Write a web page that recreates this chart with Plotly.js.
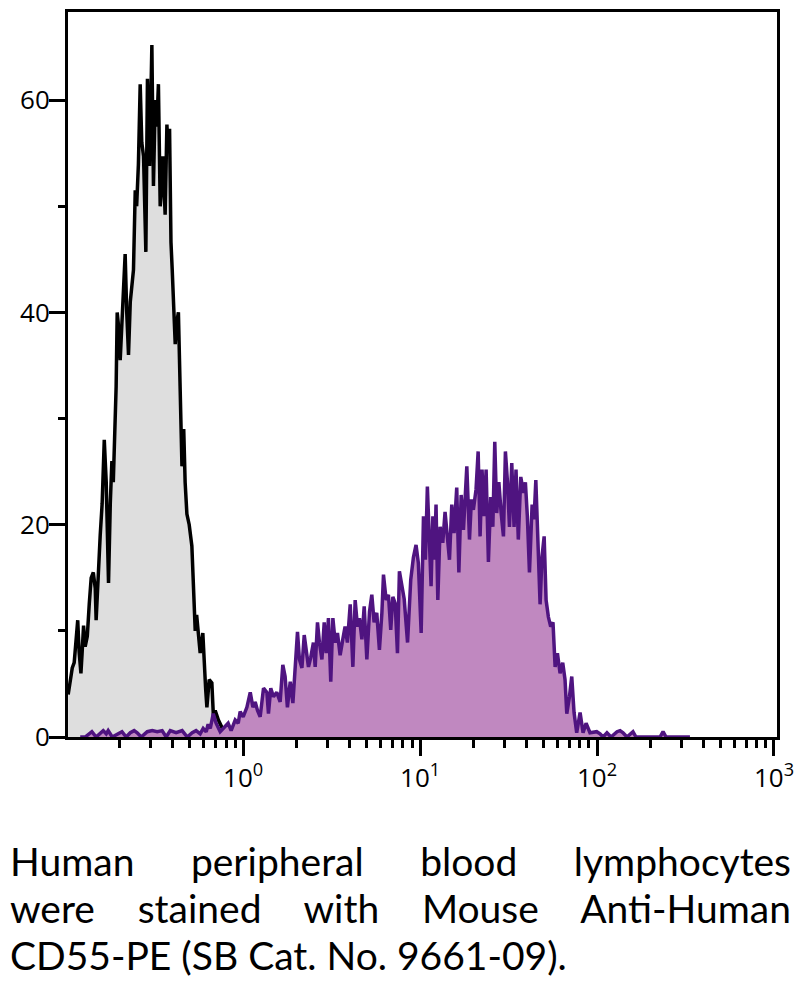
<!DOCTYPE html>
<html>
<head>
<meta charset="utf-8">
<script src="https://cdn.plot.ly/plotly-3.0.1.min.js"></script>
<style>
  body { margin:0; background:#fff; }
  #wrap { position:relative; width:804px; height:985px; }
  #chart { position:absolute; left:0; top:0; width:804px; height:985px; }
  #caption {
    position:absolute; left:10px; top:838px; width:781px;
    font-family:'Lato','Open Sans',sans-serif;
    font-size:39px; line-height:47px; color:#000;
  }
  #caption .j { text-align:justify; text-align-last:justify; white-space:nowrap; }
  #caption .l { text-align:left; white-space:nowrap; }
</style>
</head>
<body>
<div id="wrap">
  <div id="chart"></div>
  <div id="caption">
    <div class="j">Human peripheral blood lymphocytes</div>
    <div class="j">were stained with Mouse Anti-Human</div>
    <div class="l">CD55-PE (SB Cat. No. 9661-09).</div>
  </div>
</div>
<script>
// ---- Data (x read as log10 decades, y as counts) ----
// isotype control (gray)
const grayDecade = [
  -0.989,-0.977,-0.966,-0.955,-0.944,-0.935,-0.927,-0.917,-0.910,-0.902,-0.893,-0.881,-0.870,-0.859,-0.847,-0.836,
  -0.831,-0.819,-0.808,-0.797,-0.785,-0.774,-0.761,-0.751,-0.742,-0.734,-0.723,-0.718,-0.712,-0.706,-0.695,-0.684,
  -0.672,-0.667,-0.658,-0.648,-0.638,-0.627,-0.620,-0.610,-0.602,-0.592,-0.582,-0.573,-0.563,-0.550,-0.541,-0.529,
  -0.516,-0.507,-0.497,-0.488,-0.479,-0.469,-0.460,-0.454,-0.441,-0.431,-0.424,-0.416,-0.408,-0.401,-0.394,-0.384,
  -0.376,-0.366,-0.356,-0.346,-0.336,-0.328,-0.318,-0.305,-0.290,-0.281,-0.271,-0.263,-0.253,-0.243,-0.228,-0.220,
  -0.212,-0.205,-0.198,-0.192,-0.177,-0.168,-0.158,-0.140,-0.120,-0.107
];
const grayCount = [
  4.0,5.5,6.5,7.0,9.5,11,8,6,8,10.5,8.5,9.5,12.5,15,15.5,14,
  11,16,19,22,28,24,14.5,22,26,24,29,33,40,39,35.5,40,
  45,45.5,40,36,41,43,44,51.5,50,54,61.5,56,54.7,45.7,62,53.8,
  65.2,51.9,60,57.5,61.5,50,52,54.7,49.2,57.7,55,57.3,46.6,44,41,37,
  39,40,32.7,25.5,29,24,21,20,18,13.2,10,11.5,9.8,7.9,9.8,6,
  4.5,2.8,4,5.4,5.1,1.9,2.5,1.6,0.9,0.3
];

// CD55-PE stained (purple)
const cd55Decade = [
  -0.921,-0.893,-0.855,-0.831,-0.791,-0.774,-0.763,-0.740,-0.685,-0.661,-0.638,-0.616,-0.599,-0.576,-0.542,-0.514,
  -0.486,-0.458,-0.435,-0.412,-0.379,-0.345,-0.316,-0.288,-0.266,-0.243,-0.226,-0.209,-0.198,-0.186,-0.169,-0.153,
  -0.130,-0.102,-0.085,-0.068,-0.045,-0.028,-0.017,0.000,0.021,0.040,0.055,0.068,0.081,0.096,0.115,0.134,
  0.143,0.156,0.171,0.190,0.209,0.224,0.237,0.250,0.266,0.281,0.294,0.307,0.318,0.332,0.345,0.356,
  0.369,0.382,0.397,0.407,0.420,0.431,0.445,0.458,0.469,0.482,0.495,0.507,0.520,0.533,0.548,0.563,
  0.576,0.589,0.605,0.620,0.633,0.646,0.657,0.671,0.684,0.699,0.714,0.727,0.740,0.755,0.770,0.784,
  0.793,0.808,0.821,0.834,0.846,0.859,0.872,0.883,0.897,0.910,0.929,0.947,0.962,0.977,0.990,1.006,
  1.019,1.030,1.041,1.053,1.062,1.072,1.081,1.090,1.100,1.113,1.128,1.141,1.154,1.166,1.179,1.192,
  1.207,1.219,1.232,1.245,1.264,1.279,1.290,1.301,1.316,1.328,1.339,1.350,1.362,1.373,1.386,1.399,
  1.411,1.422,1.433,1.445,1.458,1.471,1.482,1.493,1.505,1.518,1.531,1.542,1.555,1.569,1.584,1.595,
  1.606,1.618,1.633,1.644,1.654,1.667,1.678,1.689,1.701,1.712,1.725,1.738,1.751,1.763,1.776,1.791,
  1.806,1.819,1.829,1.844,1.857,1.870,1.885,1.904,1.921,1.938,1.960,1.998,2.017,2.034,2.056,2.079,
  2.113,2.130,2.147,2.169,2.203,2.220,2.356,2.373,2.390,2.525
];
const cd55Count = [
  0,0,0.5,0,0.6,0.3,0.6,0,0.5,0,0.4,0.6,0.4,0,0.5,0.6,
  0.5,0.6,0,0.6,0.4,0.6,0,0.4,0.6,0.3,0.8,0.5,1.2,0.8,2.2,1.3,
  0.5,1.0,1.3,0.6,1.6,1.3,2.4,1.9,2.8,4.2,2.8,3.3,2.5,1.9,4.6,4.2,
  2.2,4.6,3.8,4.2,3.3,6.8,5.7,2.8,5.2,3.2,7.0,9.9,7.3,6.5,9.6,7.9,
  6.6,7.5,8.9,6.6,10.8,8.9,7.3,10.8,7.9,11.2,5.2,11.2,8.9,9.8,7.7,9.2,
  10.4,8.9,12.5,6.6,12.9,10.4,11.2,9.2,12.3,7.3,11.8,13.4,10.8,11.7,8.2,11.7,
  15.3,12.9,13.4,10.1,13.2,12.6,7.9,15.6,14.2,13.0,8.9,14.8,16.9,18.1,16.4,9.8,
  20.8,16.7,23.6,17.4,14.2,20.8,16.7,21.9,12.9,19.8,18.3,21.2,19.2,16.7,21.9,19.2,
  23.5,15.5,22.8,19.5,25.5,18.6,22.4,21.4,23.3,26.9,18.9,25.2,20.8,25.2,16.5,22.6,
  19.8,27.8,21.1,24.0,21.1,18.9,26.9,24.2,19.8,25.8,19.8,25.2,18.6,24.5,23.0,24.0,
  20.8,15.5,21.9,20.5,24.2,18.9,12.5,17.0,18.9,12.9,11.3,10.4,10.8,6.6,7.9,6.0,
  7.0,5.4,2.2,3.8,5.7,2.3,0.4,2.3,0.4,1.3,0.4,0.5,0.3,0,0.4,0,
  0.5,0.6,0.4,0,0.5,0,0,0.5,0,0
];

const xTickVals = [1, 10, 100, 1000];
const xTickText = ['10<sup>0</sup>', '10<sup>1</sup>', '10<sup>2</sup>', '10<sup>3</sup>'];
const yTickVals = [0, 20, 40, 60];

// minor ticks at 2..9 of every decade shown
const xMinor = [];
[0.1, 1, 10, 100].forEach(b => { for (let k = 2; k <= 9; k++) xMinor.push(+(b * k).toPrecision(3)); });

const toLin = arr => arr.map(d => Math.pow(10, d));

const traces = [
  {
    type: 'scatter', mode: 'lines', name: 'Isotype',
    x: toLin(grayDecade), y: grayCount,
    fill: 'tozeroy', fillcolor: '#dedede',
    line: { color: '#000', width: 3.5 },
    hoverinfo: 'skip'
  },
  {
    type: 'scatter', mode: 'lines', name: 'CD55-PE',
    x: toLin(cd55Decade), y: cd55Count,
    fill: 'tozeroy', fillcolor: '#c088c0',
    line: { color: '#4f1480', width: 3.5 },
    hoverinfo: 'skip'
  }
];

const tickFont = { family: "'Open Sans', 'Noto Sans', sans-serif", size: 26, color: '#000' };

const layout = {
  width: 804, height: 985,
  margin: { l: 68, r: 27, t: 12, b: 248 },
  showlegend: false,
  paper_bgcolor: '#fff', plot_bgcolor: '#fff',
  xaxis: {
    type: 'log', range: [-0.99, 3.017],
    tickmode: 'array', tickvals: xTickVals, ticktext: xTickText,
    ticks: 'outside', ticklen: 16, tickwidth: 3, tickcolor: '#000',
    minor: { tickmode: 'array', tickvals: xMinor, ticks: 'outside', ticklen: 8, tickwidth: 3, tickcolor: '#000', showgrid: false },
    showline: true, linewidth: 3, linecolor: '#000', mirror: true,
    showgrid: false, zeroline: false,
    tickfont: tickFont, ticklabelstandoff: 0
  },
  yaxis: {
    range: [0, 68.3],
    tickmode: 'array', tickvals: yTickVals,
    ticks: 'outside', ticklen: 16, tickwidth: 3, tickcolor: '#000',
    minor: { tickmode: 'linear', tick0: 0, dtick: 10, ticks: 'outside', ticklen: 7, tickwidth: 3, tickcolor: '#000', showgrid: false },
    showline: true, linewidth: 3, linecolor: '#000', mirror: true,
    showgrid: false, zeroline: false,
    tickfont: tickFont, ticklabelstandoff: -6
  }
};

Plotly.newPlot('chart', traces, layout, { displayModeBar: false, staticPlot: true });
</script>
</body>
</html>
